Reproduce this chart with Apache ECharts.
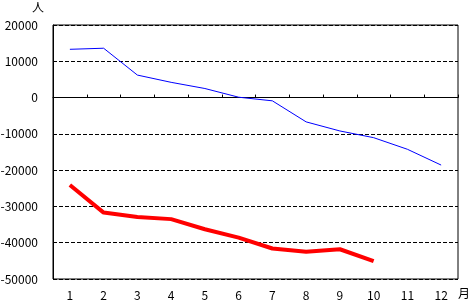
<!DOCTYPE html>
<html>
<head>
<meta charset="utf-8">
<script src="https://cdn.jsdelivr.net/npm/echarts@6/dist/echarts.min.js"></script>
<style>html,body{margin:0;padding:0;background:#fff}#c{width:469px;height:300px}</style>
</head>
<body>
<div id="c"></div>
<script>
var months = ['1','2','3','4','5','6','7','8','9','10','11','12'];
var blueSeries = [13300, 13600, 6200, 4200, 2500, 100, -900, -6700, -9200, -11050, -14250, -18600];
var redSeries = [-24100, -31700, -32900, -33500, -36300, -38600, -41600, -42500, -41800, -45100, null, null];
var yTicks = [-50000, -40000, -30000, -20000, -10000, 0, 10000, 20000];

var font = '"Noto Sans CJK JP", "DejaVu Sans", sans-serif';
var chart = echarts.init(document.getElementById('c'), null, {renderer: 'canvas'});
chart.setOption({
  animation: false,
  backgroundColor: '#fff',
  grid: {left: 53, right: 11, top: 25, bottom: 21, show: true, borderColor: '#000', borderWidth: 1, containLabel: false, outerBoundsMode: 'none'},
  xAxis: {
    type: 'category',
    data: months,
    boundaryGap: true,
    axisLine: {lineStyle: {color: '#000', width: 1}},
    axisTick: {show: true, inside: true, length: 3, interval: 0, lineStyle: {color: '#000'}},
    axisLabel: {color: '#000', fontSize: 12, fontFamily: font, margin: 10, interval: 0},
    splitLine: {show: false}
  },
  yAxis: {
    type: 'value',
    min: yTicks[0],
    max: yTicks[yTicks.length - 1],
    interval: 10000,
    axisLine: {show: true, lineStyle: {color: '#000', width: 1}},
    axisTick: {show: false},
    axisLabel: {color: '#000', fontSize: 12, fontFamily: font, margin: 15, formatter: function (v) { return String(v); }},
    splitLine: {show: true, lineStyle: {color: '#000', type: [4, 2], width: 1}}
  },
  graphic: [
    {type: 'text', left: 32, top: 1, style: {text: '人', fill: '#000', font: '12px ' + font}},
    {type: 'text', left: 458, top: 287, style: {text: '月', fill: '#000', font: '12px ' + font}}
  ],
  series: [
    {type: 'line', data: blueSeries, symbol: 'none', lineStyle: {color: '#0000ff', width: 1}, itemStyle: {color: '#0000ff'}},
    {type: 'line', data: redSeries, symbol: 'none', lineStyle: {color: '#ff0000', width: 4}, itemStyle: {color: '#ff0000'}}
  ]
});
</script>
</body>
</html>
